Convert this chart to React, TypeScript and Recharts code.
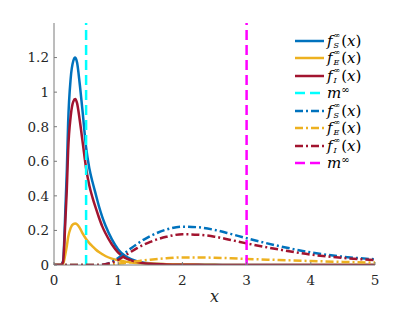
import React from "react";
import { ComposedChart, Line, XAxis, YAxis, ReferenceLine } from "recharts";

const BLUE = "#0072BD";
const YELLOW = "#EDB120";
const RED = "#A2142F";
const CYAN = "#00FFFF";
const MAGENTA = "#FF00FF";
const AXIS = "#7a7a7a";
const FONT = "DejaVu Serif";

// sample points along x
const X = [0, 0.1, 0.14, 0.18, 0.2, 0.22, 0.26, 0.3, 0.33, 0.36, 0.4, 0.45, 0.5, 0.55, 0.6, 0.65, 0.7, 0.75, 0.8, 0.9, 1.0, 1.1, 1.2, 1.3, 1.4, 1.5, 1.75, 2, 2.25, 2.5, 2.75, 3, 3.5, 4, 4.5, 5];

// solid curves (first steady state)
const FS = [0, 0, 0.02, 0.35, 0.55, 0.82, 1.08, 1.18, 1.2, 1.17, 1.05, 0.87, 0.68, 0.56, 0.48, 0.41, 0.34, 0.28, 0.23, 0.15, 0.09, 0.055, 0.034, 0.021, 0.013, 0.009, 0.004, 0.002, 0.001, 0.001, 0, 0, 0, 0, 0, 0];
const FE = [0, 0, 0.005, 0.07, 0.11, 0.16, 0.215, 0.237, 0.24, 0.235, 0.215, 0.18, 0.15, 0.127, 0.108, 0.09, 0.075, 0.063, 0.052, 0.037, 0.027, 0.02, 0.015, 0.012, 0.01, 0.008, 0.005, 0.003, 0.002, 0.001, 0, 0, 0, 0, 0, 0];
const FI = [0, 0, 0.015, 0.28, 0.44, 0.66, 0.86, 0.945, 0.96, 0.935, 0.84, 0.7, 0.56, 0.46, 0.39, 0.33, 0.275, 0.225, 0.185, 0.12, 0.072, 0.043, 0.027, 0.017, 0.01, 0.007, 0.003, 0.0015, 0.001, 0, 0, 0, 0, 0, 0, 0];

// dash-dot curves (second steady state)
const GS = [0, 0, 0, 0, 0, 0, 0, 0, 0, 0, 0, 0, 0, 0, 0, 0, 0, 0.002, 0.005, 0.018, 0.04, 0.068, 0.097, 0.123, 0.147, 0.167, 0.205, 0.222, 0.218, 0.203, 0.18, 0.155, 0.11, 0.073, 0.048, 0.033];
const GE = [0, 0, 0, 0, 0, 0, 0, 0, 0, 0, 0, 0, 0, 0, 0, 0, 0, 0, 0.001, 0.003, 0.008, 0.012, 0.017, 0.022, 0.027, 0.031, 0.039, 0.044, 0.044, 0.042, 0.039, 0.035, 0.029, 0.023, 0.018, 0.014];
const GI = [0, 0, 0, 0, 0, 0, 0, 0, 0, 0, 0, 0, 0, 0, 0, 0, 0, 0.0015, 0.004, 0.014, 0.03, 0.053, 0.077, 0.099, 0.118, 0.134, 0.163, 0.178, 0.175, 0.164, 0.145, 0.125, 0.09, 0.06, 0.041, 0.028];

// means
const M1 = 0.5;
const M2 = 3;

const X_TICKS = [0, 1, 2, 3, 4, 5];
const Y_TICKS = [0, 0.2, 0.4, 0.6, 0.8, 1, 1.2];

const rows = X.map((x, i) => ({ x, fS: FS[i], fE: FE[i], fI: FI[i], gS: GS[i], gE: GE[i], gI: GI[i] }));

const DASHDOT = "8 3 2 3";
const DASH = "10 5";

function FLabel({ sub }: { sub: string }) {
  return (
    <span style={{ display: "inline-flex", alignItems: "center" }}>
      <i>f</i>
      <span style={{ display: "inline-flex", flexDirection: "column", fontSize: 8, lineHeight: "10px", marginLeft: 1, marginRight: 1 }}>
        <span>∞</span>
        <i>{sub}</i>
      </span>
      <span>
        (<i>x</i>)
      </span>
    </span>
  );
}

function MLabel() {
  return (
    <span>
      <i>m</i>
      <span style={{ fontSize: 10, verticalAlign: 5 }}>∞</span>
    </span>
  );
}

const LEGEND = [
  { color: BLUE, dash: undefined, label: <FLabel sub="S" /> },
  { color: YELLOW, dash: undefined, label: <FLabel sub="E" /> },
  { color: RED, dash: undefined, label: <FLabel sub="I" /> },
  { color: CYAN, dash: DASH, label: <MLabel /> },
  { color: BLUE, dash: DASHDOT, label: <FLabel sub="S" /> },
  { color: YELLOW, dash: DASHDOT, label: <FLabel sub="E" /> },
  { color: RED, dash: DASHDOT, label: <FLabel sub="I" /> },
  { color: MAGENTA, dash: DASH, label: <MLabel /> },
];

function Legend() {
  return (
    <div style={{ position: "absolute", left: 295, top: 32, fontFamily: FONT, fontSize: 15, color: "#000" }}>
      {LEGEND.map((l, i) => (
        <div key={i} style={{ display: "flex", alignItems: "center", height: 17.5 }}>
          <svg width={29} height={6} style={{ marginRight: 3 }}>
            <line x1={0} y1={3} x2={29} y2={3} stroke={l.color} strokeWidth={2.5} strokeDasharray={l.dash} />
          </svg>
          {l.label}
        </div>
      ))}
    </div>
  );
}

export default function App() {
  const tickStyle = { fontFamily: FONT, fontSize: 13.5, fill: "#262626" };
  return (
    <div style={{ position: "absolute", left: 0, top: 0, width: 415, height: 312, background: "#fff", fontFamily: FONT }}>
      <ComposedChart width={415} height={312} data={rows} margin={{ top: 23, right: 40, left: 0, bottom: 0 }}>
        <XAxis
          dataKey="x"
          type="number"
          domain={[0, 5]}
          ticks={X_TICKS}
          height={47}
          tickSize={-3}
          tickMargin={13}
          stroke={AXIS}
          tick={tickStyle}
          label={{ value: "x", position: "insideBottom", offset: 10, style: { fontFamily: FONT, fontSize: 16, fontStyle: "italic", fill: "#262626" } }}
        />
        <XAxis xAxisId="top" orientation="top" type="number" dataKey="x" domain={[0, 5]} ticks={X_TICKS} mirror height={0} tickSize={3} stroke={AXIS} tickFormatter={() => ""} />
        <YAxis
          type="number"
          domain={[0, 1.4]}
          ticks={Y_TICKS}
          width={54}
          tickSize={-3}
          tickMargin={8}
          stroke={AXIS}
          tick={tickStyle}
          allowDataOverflow
        />
        <YAxis yAxisId="right" orientation="right" type="number" domain={[0, 1.4]} ticks={Y_TICKS} mirror width={0} tickSize={3} stroke={AXIS} tickFormatter={() => ""} />
        <Line type="monotone" dataKey="fS" stroke={BLUE} strokeWidth={2.5} dot={false} activeDot={false} isAnimationActive={false} />
        <Line type="monotone" dataKey="fE" stroke={YELLOW} strokeWidth={2.5} dot={false} activeDot={false} isAnimationActive={false} />
        <Line type="monotone" dataKey="fI" stroke={RED} strokeWidth={2.5} dot={false} activeDot={false} isAnimationActive={false} />
        <ReferenceLine x={M1} stroke={CYAN} strokeWidth={2.5} strokeDasharray={DASH} />
        <Line type="monotone" dataKey="gS" stroke={BLUE} strokeWidth={2.5} strokeDasharray={DASHDOT} dot={false} activeDot={false} isAnimationActive={false} />
        <Line type="monotone" dataKey="gE" stroke={YELLOW} strokeWidth={2.5} strokeDasharray={DASHDOT} dot={false} activeDot={false} isAnimationActive={false} />
        <Line type="monotone" dataKey="gI" stroke={RED} strokeWidth={2.5} strokeDasharray={DASHDOT} dot={false} activeDot={false} isAnimationActive={false} />
        <ReferenceLine x={M2} stroke={MAGENTA} strokeWidth={2.5} strokeDasharray={DASH} />
      </ComposedChart>
      <Legend />
    </div>
  );
}
